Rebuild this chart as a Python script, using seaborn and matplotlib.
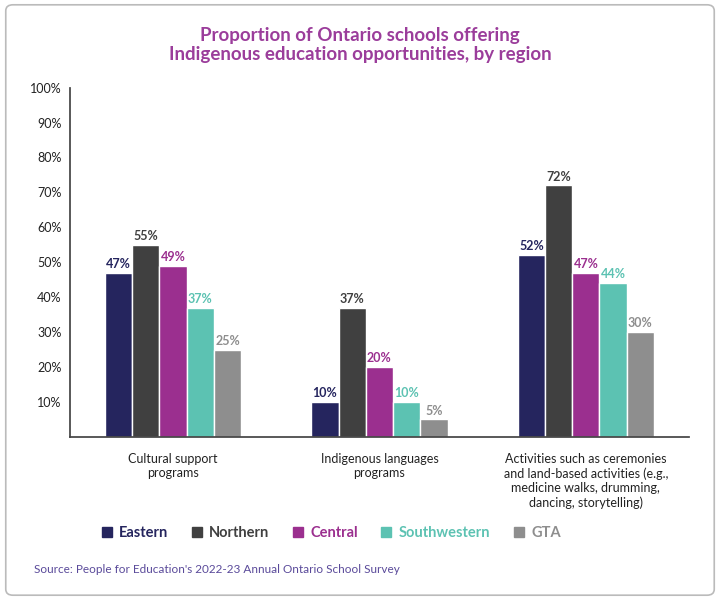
import matplotlib
matplotlib.use("Agg")
import matplotlib.pyplot as plt
import seaborn as sns
import pandas as pd
from matplotlib.patches import FancyBboxPatch, Patch

categories = ["Cultural support\nprograms", "Indigenous languages\nprograms",
              "Activities such as ceremonies\nand land-based activities (e.g.,\nmedicine walks, drumming,\ndancing, storytelling)"]
regions = ["Eastern", "Northern", "Central", "Southwestern", "GTA"]
values = {
    "Eastern": [47, 10, 52],
    "Northern": [55, 37, 72],
    "Central": [49, 20, 47],
    "Southwestern": [37, 10, 44],
    "GTA": [25, 5, 30],
}
colors = ["#25255e", "#404040", "#9b2f8f", "#5cc2b2", "#8e8e8e"]
label_colors = ["#25255e", "#404040", "#9b2f8f", "#5cc2b2", "#8e8e8e"]

rows = [(c, r, values[r][i]) for r in regions for i, c in enumerate(categories)]
df = pd.DataFrame(rows, columns=["cat", "region", "val"])

sns.set_theme(style="white")
plt.rcParams['font.family'] = ['Lato', 'DejaVu Sans']
fig = plt.figure(figsize=(7.2, 6.0), dpi=100)
fig.patches.append(FancyBboxPatch((0.008, 0.008), 0.984, 0.984, boxstyle="round,pad=0,rounding_size=0.01",
                                  transform=fig.transFigure, fill=False, ec="#bbbbbb", lw=1.2))
ax = fig.add_axes([0.097, 0.272, 0.86, 0.582])
sns.barplot(data=df, x="cat", y="val", hue="region", hue_order=regions, palette=colors,
            width=0.66, ax=ax, legend=False, saturation=1)
for cont, lc in zip(ax.containers, label_colors):
    ax.bar_label(cont, labels=[f"{v:.0f}%" for v in cont.datavalues], color=lc,
                 fontsize=9, fontweight="bold", padding=2)
ax.set_ylim(0, 100)
ax.set_yticks(range(10, 101, 10))
ax.set_yticklabels([f"{v}%" for v in range(10, 101, 10)], fontsize=9, color="#222222")
ax.set_xlabel(""); ax.set_ylabel("")
ax.tick_params(axis="x", labelsize=9, colors="#222222", pad=6)
for s in ["top", "right"]:
    ax.spines[s].set_visible(False)
ax.spines["left"].set_color("#444444"); ax.spines["bottom"].set_color("#444444")
ax.tick_params(axis="y", length=0, pad=6)
fig.text(0.5, 0.925, "Proportion of Ontario schools offering\nIndigenous education opportunities, by region",
         ha="center", va="center", color="#9b3d9b", fontsize=13.5, fontweight="bold", linespacing=1.2)
handles = [Patch(color=c) for c in colors]
leg = fig.legend(handles, regions, loc="center", bbox_to_anchor=(0.46, 0.112), ncol=5, frameon=False,
                 fontsize=10.5, handlelength=0.7, handleheight=0.7, columnspacing=1.6, handletextpad=0.5)
for t, c in zip(leg.get_texts(), label_colors):
    t.set_color(c); t.set_fontweight("bold")
fig.text(0.047, 0.045, "Source: People for Education's 2022-23 Annual Ontario School Survey",
         color="#5a4a9a", fontsize=8.5)
fig.savefig("out.png", dpi=100)
